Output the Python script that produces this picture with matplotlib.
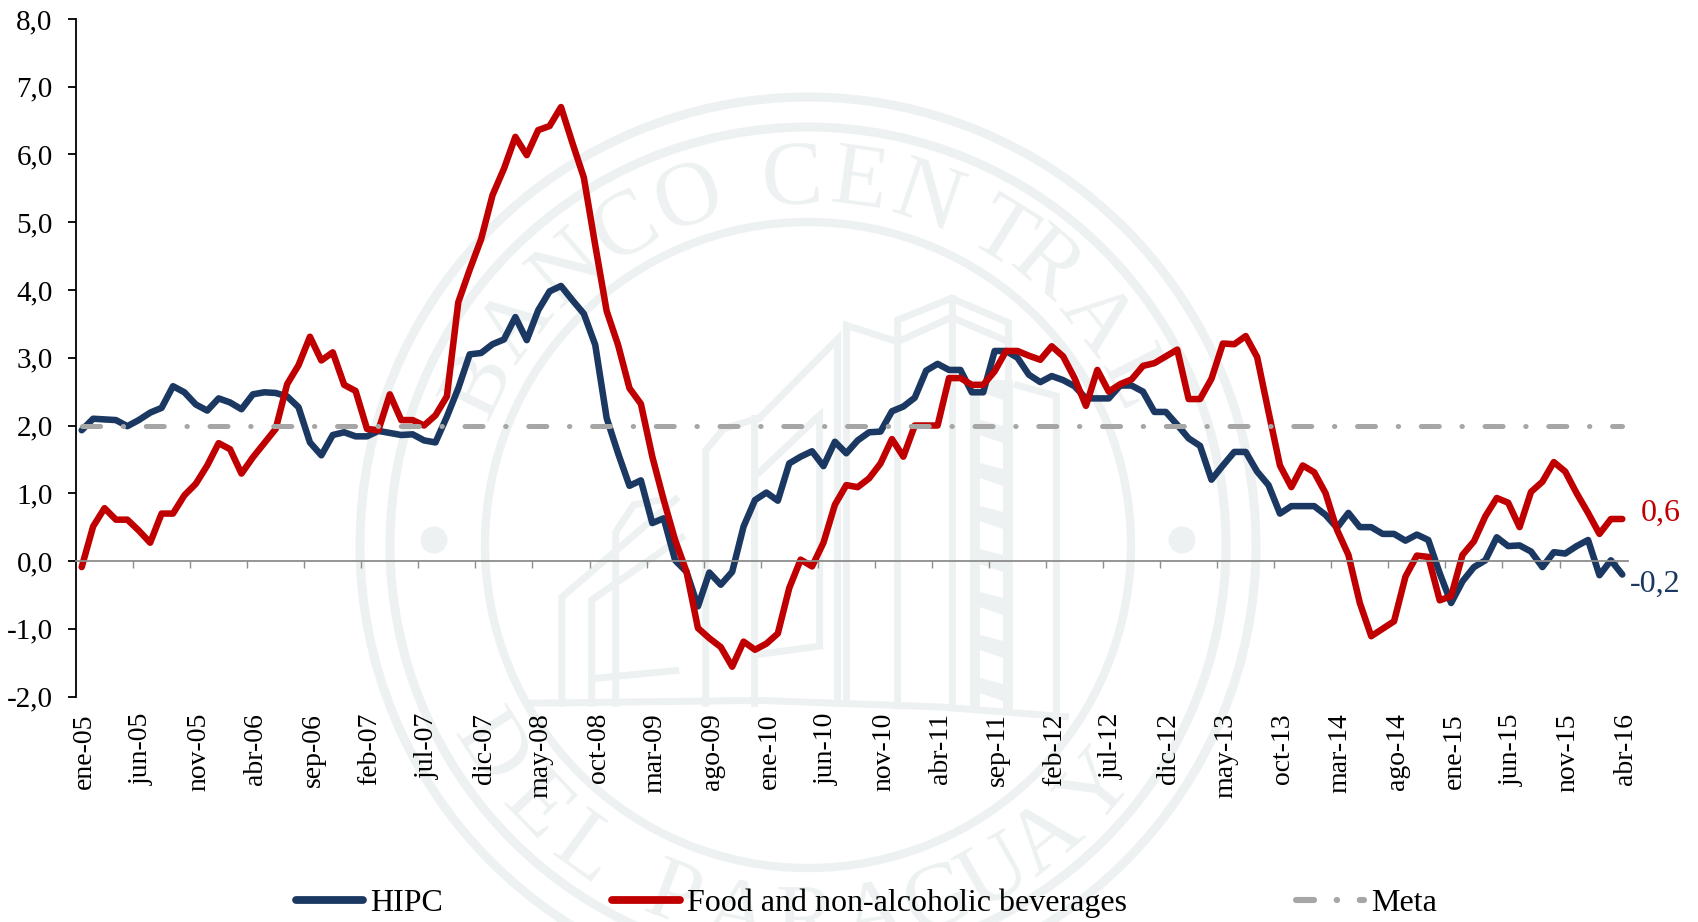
import matplotlib
matplotlib.use("Agg")
import matplotlib.pyplot as plt
from matplotlib.patches import Circle
from matplotlib.ticker import FixedLocator, FixedFormatter
from matplotlib.transforms import ScaledTranslation
import numpy as np

plt.rcParams['font.family'] = ['Liberation Serif', 'DejaVu Serif']
plt.rcParams['lines.scale_dashes'] = False

hipc = [1.93,2.10,2.09,2.08,1.99,2.08,2.19,2.26,2.58,2.49,2.31,2.22,2.40,2.34,2.24,2.46,2.49,2.48,2.43,2.27,
        1.75,1.56,1.86,1.90,1.84,1.84,1.92,1.89,1.86,1.87,1.78,1.75,2.13,2.55,3.05,3.07,3.20,3.27,3.60,3.26,
        3.70,3.98,4.06,3.85,3.65,3.19,2.11,1.59,1.11,1.19,0.56,0.63,0.01,-0.16,-0.67,-0.17,-0.35,-0.16,0.51,0.90,
        1.01,0.89,1.44,1.54,1.62,1.40,1.76,1.59,1.78,1.90,1.91,2.21,2.28,2.41,2.81,2.91,2.82,2.82,2.49,2.49,
        3.10,3.10,3.00,2.75,2.64,2.73,2.67,2.58,2.40,2.40,2.40,2.59,2.59,2.50,2.20,2.20,2.01,1.81,1.70,1.20,
        1.41,1.61,1.61,1.32,1.12,0.70,0.81,0.81,0.81,0.68,0.49,0.71,0.50,0.50,0.40,0.40,0.30,0.39,0.31,-0.18,
        -0.62,-0.30,-0.09,0.01,0.35,0.22,0.23,0.14,-0.09,0.13,0.11,0.22,0.31,-0.21,0.01,-0.20]
food = [-0.09,0.51,0.78,0.61,0.61,0.45,0.27,0.70,0.70,0.97,1.14,1.41,1.74,1.65,1.29,1.53,1.74,1.95,2.61,2.89,
        3.31,2.96,3.08,2.60,2.51,1.95,1.93,2.46,2.08,2.08,2.00,2.15,2.43,3.82,4.30,4.75,5.40,5.79,6.26,5.99,
        6.36,6.42,6.70,6.17,5.66,4.66,3.69,3.19,2.55,2.32,1.54,0.90,0.31,-0.16,-0.99,-1.14,-1.27,-1.56,-1.19,-1.31,
        -1.22,-1.07,-0.40,0.02,-0.08,0.27,0.83,1.12,1.09,1.22,1.44,1.80,1.54,2.00,2.00,2.00,2.70,2.70,2.60,2.60,
        2.80,3.10,3.10,3.03,2.97,3.17,3.02,2.70,2.29,2.82,2.50,2.61,2.68,2.88,2.92,3.02,3.12,2.39,2.39,2.69,
        3.21,3.20,3.32,3.01,2.20,1.41,1.09,1.41,1.31,1.00,0.46,0.09,-0.62,-1.11,-1.00,-0.89,-0.23,0.08,0.06,-0.58,
        -0.52,0.09,0.29,0.66,0.93,0.86,0.50,1.02,1.17,1.46,1.32,1.00,0.71,0.40,0.62,0.62]
meta = [2.0] * 136
x_labels = ['ene-05','jun-05','nov-05','abr-06','sep-06','feb-07','jul-07','dic-07','may-08','oct-08',
            'mar-09','ago-09','ene-10','jun-10','nov-10','abr-11','sep-11','feb-12','jul-12','dic-12',
            'may-13','oct-13','mar-14','ago-14','ene-15','jun-15','nov-15','abr-16']
y_ticks = [-2,-1,0,1,2,3,4,5,6,7,8]
y_labels = ['-2,0','-1,0','0,0','1,0','2,0','3,0','4,0','5,0','6,0','7,0','8,0']

BLUE, RED, GREY = '#1A3861', '#C00000', '#A6A6A6'
WM = '#EDF1F1'
W, H = 1698, 922

fig = plt.figure(figsize=(W/100, H/100), dpi=100, facecolor='white')

# ---------- watermark seal, in pixel coordinates ----------
bg = fig.add_axes([0, 0, 1, 1], zorder=0)
bg.set_xlim(0, W); bg.set_ylim(H, 0); bg.axis('off')
cx, cy = 808, 545
for r, lw in [(448, 6.5), (418, 6.5), (323, 6.0)]:
    bg.add_patch(Circle((cx, cy), r, fill=False, ec=WM, lw=lw))
for dx in (-374, 374):
    bg.add_patch(Circle((cx+dx, 540), 13.5, fc=WM, ec='none'))

def arc_text(s, angles, r, top):
    for ch, a in zip(s, angles):
        t = np.deg2rad(a)
        bg.text(cx + r*np.cos(t), cy - r*np.sin(t), ch, color=WM, fontsize=66,
                rotation=(a-90) if top else (a+90), rotation_mode='anchor',
                ha='center', va='baseline')
arc_text('BANCOCENTRAL', [154,143,131,120,109,92.5,82,71,58,49.6,38,27], 342, True)
arc_text('DELPARAGUAY', [212.5,224,234,249,259,269.5,280,290,299.5,309,320], 402, False)

def zp(pts):
    return [p[0]/1.668+340 for p in pts], [p[1]/1.84+70 for p in pts]
shapes = [
    [(930,1170),(930,460),(1020,420),(1115,465),(1115,600)],
    [(1020,420),(1020,1170)],
    [(930,500),(1020,455),(1115,500)],
    [(845,1165),(845,470),(930,500)],
    [(700,640),(830,495),(830,1165)],
    [(700,740),(800,635),(800,1060),(700,1075)],
    [(610,1165),(610,700),(640,660),(700,640)],
    [(690,640),(690,1165)],
    [(460,1165),(460,850),(490,800),(540,790)],
    [(370,1165),(370,970),(560,790)],
    [(420,1165),(420,975),(570,860)],
    [(420,1120),(560,1105)],
    [(1130,580),(1195,600),(1195,1180)],
    [(320,1165),(700,1160),(1000,1172),(1210,1190)],
]
for s in shapes:
    xs, ys = zp(s)
    bg.plot(xs, ys, color=WM, lw=5.0, solid_joinstyle='miter')
# stair column: a pale band with white slots
bg.fill([970, 1013, 1013, 970], [380, 380, 712, 712], color=WM, lw=0)
for y0 in range(392, 700, 43):
    bg.fill([980, 1003, 1003, 980], [y0, y0+8, y0+34, y0+28], color='white', lw=0)

# ---------- chart ----------
ax = fig.add_axes([76/W, 1-696.5/H, (1628-76)/W, (696.5-19)/H], zorder=1)
ax.patch.set_alpha(0)
idx = np.arange(len(hipc))
style = dict(solid_capstyle='round', solid_joinstyle='round')
l1, = ax.plot(idx, hipc, color=BLUE, lw=4.7, label='HIPC', **style)
l2, = ax.plot(idx, food, color=RED, lw=4.7, label='Food and non-alcoholic beverages', **style)
l3, = ax.plot(idx, meta, color=GREY, lw=3.6, label='Meta', dashes=(13, 16.3, 0.3, 16.3),
              dash_capstyle='round')
ax.set_xlim(-0.5, 135.5)
ax.set_ylim(-2, 8)
for s in ('top', 'right'):
    ax.spines[s].set_visible(False)
ax.spines['left'].set_linewidth(1.3)
ax.spines['bottom'].set_position(('data', 0))
ax.spines['bottom'].set_color('#8C8C8C')
ax.spines['bottom'].set_linewidth(1.3)
ax.set_yticks(y_ticks)
ax.set_yticklabels(y_labels, fontsize=21)
ax.tick_params(axis='y', length=5.8, width=1.3, pad=11, color='black')
ax.xaxis.set_major_locator(FixedLocator(list(idx[::5])))
ax.xaxis.set_major_formatter(FixedFormatter(x_labels))
ax.xaxis.set_minor_locator(FixedLocator(list(idx[::5][1:] - 0.5)))
ax.tick_params(axis='x', which='major', length=0, pad=109.5, labelsize=20, labelrotation=90)
ax.tick_params(axis='x', which='minor', length=4.8, width=1.0, color='#8C8C8C')
shift = ScaledTranslation(3/100, 0, fig.dpi_scale_trans)
for lab in ax.get_xticklabels():
    lab.set_transform(lab.get_transform() + shift)

ax.annotate(f"{food[-1]:.1f}".replace('.', ','), xy=(135, food[-1]), xytext=(13, 4),
            textcoords='offset points', color=RED, fontsize=23, va='center', ha='left')
ax.annotate(f"{hipc[-1]:.1f}".replace('.', ','), xy=(135, hipc[-1]), xytext=(5.8, -7),
            textcoords='offset points', color=BLUE, fontsize=23, va='center', ha='left')

leg = fig.legend(handles=[l1, l2, l3], loc='center left', bbox_to_anchor=(295.5/W, 1-903.5/H), ncol=3,
                 frameon=False, fontsize=23, handlelength=2.1, handletextpad=0.24, columnspacing=5.3,
                 borderpad=0, borderaxespad=0)
for line, lw in zip(leg.get_lines(), (5.6, 5.6, 4.4)):
    line.set_linewidth(lw)

fig.savefig('out.png', dpi=100, facecolor='white')
